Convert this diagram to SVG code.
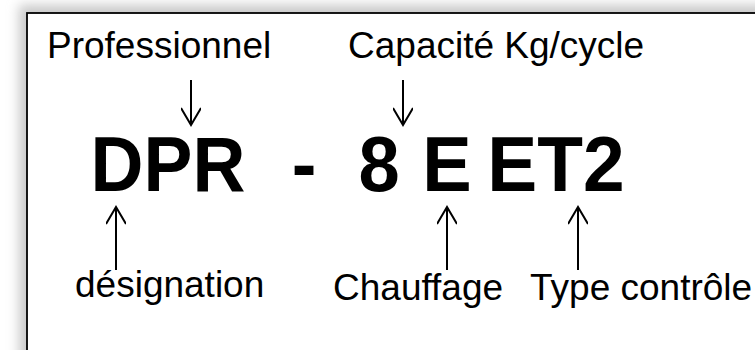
<svg xmlns="http://www.w3.org/2000/svg" width="755" height="350" viewBox="0 0 755 350">
<defs>
<filter id="glow" x="-10%" y="-10%" width="120%" height="120%">
<feGaussianBlur stdDeviation="6"/>
</filter>
<marker id="ah" viewBox="0 0 24 20" markerWidth="24" markerHeight="20" refX="21" refY="10" orient="auto" markerUnits="userSpaceOnUse">
<path d="M4 0 L21 10 L4 20" fill="none" stroke="#000" stroke-width="2"/>
</marker>
</defs>
<style>
.lbl{font-family:"Liberation Sans",Arial,sans-serif;font-size:37px;fill:#000}
.big{font-family:"Liberation Sans",Arial,sans-serif;font-size:78px;font-weight:bold;fill:#000;text-anchor:middle}
.arr{stroke:#000;stroke-width:2;fill:none;marker-end:url(#ah)}
</style>
<rect width="755" height="350" fill="#fff"/>
<rect x="19" y="5" width="760" height="360" fill="#c8c8c8" filter="url(#glow)"/>
<rect x="27" y="13" width="740" height="350" fill="#fff" stroke="#000" stroke-width="1.8"/>
<g id="code">
<text class="big" transform="translate(168,191) scale(0.94,1)">DPR</text>
<text class="big" transform="translate(304,191) scale(0.95,1)">-</text>
<text class="big" transform="translate(379,191) scale(0.95,1)">8</text>
<text class="big" transform="translate(447,191) scale(0.95,1)">E</text>
<text class="big" transform="translate(556,191) scale(0.96,1)">ET2</text>
</g>
<g id="professionnel"><text class="lbl" x="47" y="58">Professionnel</text></g>
<g id="capacite"><text class="lbl" x="348" y="58">Capacité Kg/cycle</text></g>
<g id="designation"><text class="lbl" x="75" y="297">désignation</text></g>
<g id="chauffage"><text class="lbl" x="333" y="300">Chauffage</text></g>
<g id="type"><text class="lbl" x="530" y="300">Type contrôle</text></g>
<g id="connectors">
<line class="arr" x1="191" y1="80" x2="191" y2="125"/>
<line class="arr" x1="403" y1="80" x2="403" y2="125"/>
<line class="arr" x1="116" y1="270" x2="116" y2="207"/>
<line class="arr" x1="447" y1="270" x2="447" y2="207"/>
<line class="arr" x1="578" y1="270" x2="578" y2="207"/>
</g>
</svg>
